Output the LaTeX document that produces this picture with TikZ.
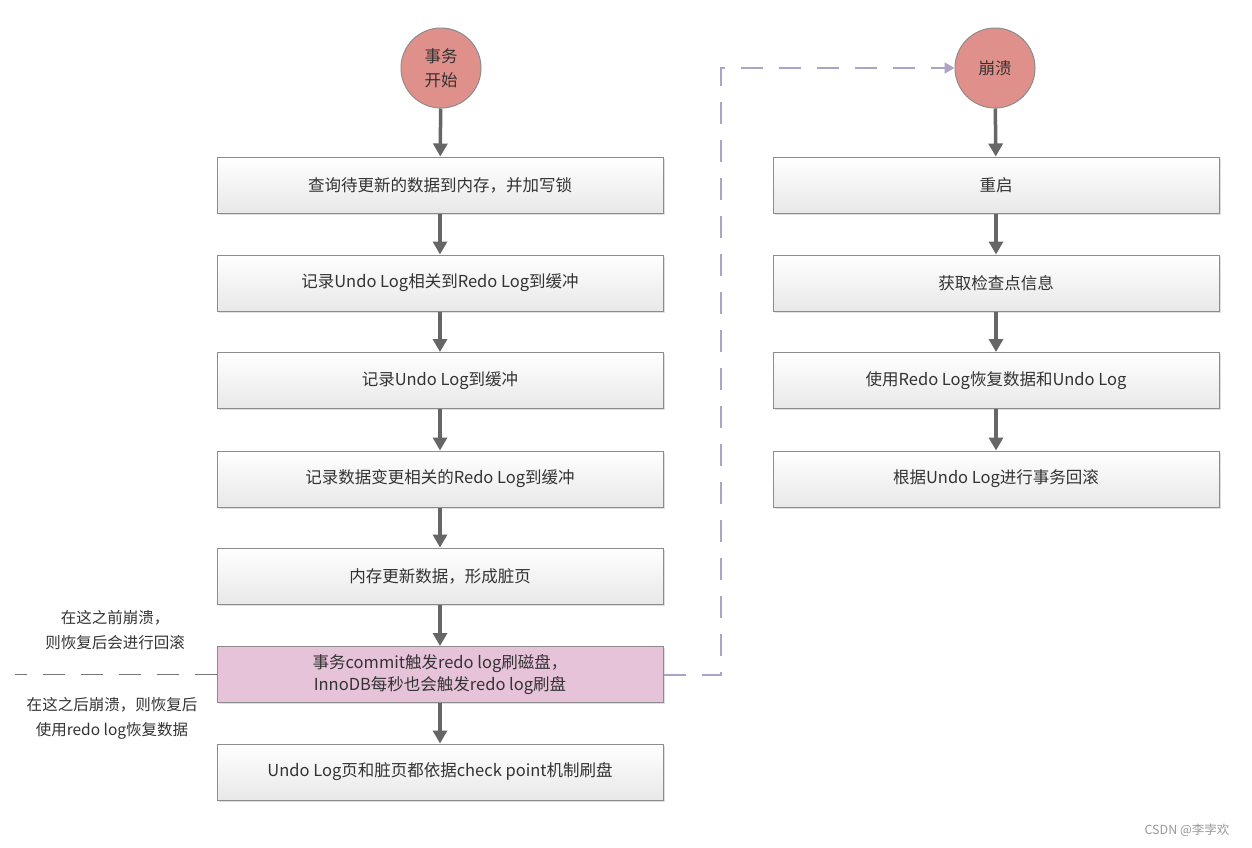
\documentclass[tikz,border=0pt]{standalone}
\usepackage{fontspec}
\setmainfont{Noto Sans CJK SC}
\usetikzlibrary{arrows.meta,shadows}
\definecolor{boxline}{HTML}{8C8C8C}
\definecolor{txt}{HTML}{333333}
\definecolor{circfill}{HTML}{E0908A}
\definecolor{pinkfill}{HTML}{E7C3DA}
\definecolor{arrowgray}{HTML}{666666}
\definecolor{dashpurple}{HTML}{ADA3C8}
\definecolor{dashgray}{HTML}{777777}
\tikzset{
  stepbox/.style={draw=boxline, line width=1pt, minimum width=446pt, minimum height=56pt,
    top color=white, bottom color=black!9, text=txt, font=\fontsize{16.5}{22}\selectfont,
    align=center, drop shadow={shadow xshift=1.5pt, shadow yshift=-1.5pt, opacity=0.25}},
  pinkbox/.style={stepbox, top color=pinkfill, bottom color=pinkfill},
  circ/.style={circle, draw=boxline, line width=1pt, fill=circfill, minimum size=80pt,
    text=txt, font=\fontsize{16.5}{24}\selectfont, align=center},
  flow/.style={draw=arrowgray, line width=3.5pt, -{Triangle[length=13pt,width=14pt]}},
  note/.style={text=txt, font=\fontsize{15.5}{25}\selectfont, align=center}
}
\begin{document}
\begin{tikzpicture}[x=1pt,y=-1pt]
\useasboundingbox (0,0) rectangle (1252,847);
\node[circ] (c1) at (441,68) {事务\\开始};
\node[stepbox] (b1) at (440,185) {查询待更新的数据到内存，并加写锁};
\node[stepbox] (b2) at (440,283) {记录Undo Log相关到Redo Log到缓冲};
\node[stepbox] (b3) at (440,380.5) {记录Undo Log到缓冲};
\node[stepbox] (b4) at (440,479) {记录数据变更相关的Redo Log到缓冲};
\node[stepbox] (b5) at (440,576) {内存更新数据，形成脏页};
\node[pinkbox] (b6) at (440,674.5) {事务commit触发redo log刷磁盘，\\InnoDB每秒也会触发redo log刷盘};
\node[stepbox] (b7) at (440,772) {Undo Log页和脏页都依据check point机制刷盘};
\node[circ] (c2) at (995,68) {崩溃};
\node[stepbox] (r1) at (996,185) {重启};
\node[stepbox] (r2) at (996,283) {获取检查点信息};
\node[stepbox] (r3) at (996,380.5) {使用Redo Log恢复数据和Undo Log};
\node[stepbox] (r4) at (996,479) {根据Undo Log进行事务回滚};
\draw[flow] (c1) -- (b1);
\draw[flow] (b1) -- (b2);
\draw[flow] (b2) -- (b3);
\draw[flow] (b3) -- (b4);
\draw[flow] (b4) -- (b5);
\draw[flow] (b5) -- (b6);
\draw[flow] (b6) -- (b7);
\draw[flow] (c2) -- (r1);
\draw[flow] (r1) -- (r2);
\draw[flow] (r2) -- (r3);
\draw[flow] (r3) -- (r4);
\coordinate (lend) at (15,674.5);
\draw[dashgray, line width=1.5pt, dash pattern=on 22pt off 16pt] (b6.west) -- (lend);
\draw[dashpurple, line width=2pt, dash pattern=on 22pt off 16pt, -{Triangle[length=10pt,width=11pt]}]
  (b6.east) -- (721,674.5) -- (721,68) -- (c2.west);
\node[note] (n1) at (115,630) {在这之前崩溃，\\则恢复后会进行回滚};
\node[note] (n2) at (112,718) {在这之后崩溃，则恢复后\\使用redo log恢复数据};
\node[text=black!40, font=\fontsize{12.5}{14}\selectfont] (wm) at (1187,830) {CSDN @李孛欢};
\end{tikzpicture}
\end{document}
